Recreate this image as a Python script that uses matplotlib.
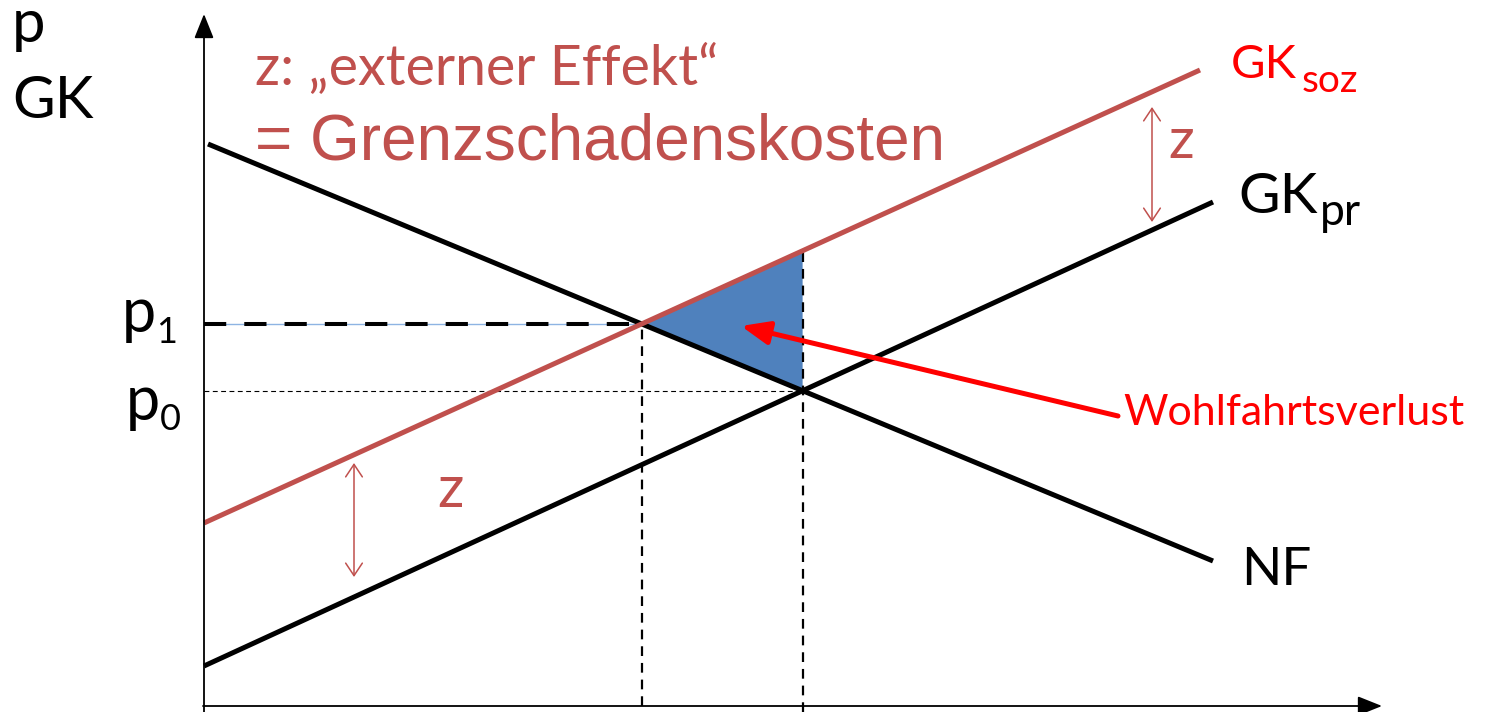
import numpy as np
import matplotlib.pyplot as plt
from matplotlib.patches import Polygon

plt.rcParams['font.family'] = ['Lato', 'DejaVu Sans']
plt.rcParams['lines.scale_dashes'] = False

# curves as end points (quantity, price), diagram units
nf_q = [4, 1009]
nf_p = [562, 145]
gkpr_q = [0, 1009]
gkpr_p = [40, 504]
gksoz_q = [0, 996]
gksoz_p = [183, 636]

# axis lengths
q_max = 1178
p_max = 692

RED_BROWN = '#C0504D'
RED = '#FF0000'
BLUE = '#4F81BD'


def coef(q, p):
    m = (p[1] - p[0]) / (q[1] - q[0])
    return m, p[0] - m * q[0]


def cross(a, b):
    m1, b1 = a
    m2, b2 = b
    x = (b2 - b1) / (m1 - m2)
    return x, m1 * x + b1


nf = coef(nf_q, nf_p)
gkpr = coef(gkpr_q, gkpr_p)
gksoz = coef(gksoz_q, gksoz_p)

q1, p1 = cross(nf, gksoz)   # market outcome with external effect
q0, p0 = cross(nf, gkpr)    # private optimum
soz_at_q0 = gksoz[0] * q0 + gksoz[1]

fig = plt.figure(figsize=(14.9, 7.12), dpi=100)
ax = fig.add_axes([0, 0, 1, 1])
ax.set_xlim(-204, 1286)
ax.set_ylim(-6, 706)
ax.axis('off')

# welfare loss triangle
ax.add_patch(Polygon([(q1, p1), (q0, soz_at_q0), (q0, p0)],
                     closed=True, facecolor=BLUE, edgecolor='none', zorder=1))

# helper lines
ax.plot([0, q1], [p1, p1], color='#8EB4E3', lw=1.0, zorder=2)
ax.plot([0, q1], [p1, p1], color='black', lw=2.9, dashes=(16, 13), zorder=3)
ax.plot([0, q0], [p0, p0], color='black', lw=0.8, dashes=(3.5, 2.5), zorder=2)
ax.plot([q1, q1], [0, p1], color='black', lw=1.6, dashes=(7, 5), zorder=2)
ax.plot([q0, q0], [-6, soz_at_q0], color='black', lw=1.6, dashes=(7, 5), zorder=2)

# curves
ax.plot(nf_q, nf_p, color='black', lw=3.6, solid_capstyle='butt', zorder=4)
ax.plot(gkpr_q, gkpr_p, color='black', lw=3.6, solid_capstyle='butt', zorder=4)
ax.plot(gksoz_q, gksoz_p, color=RED_BROWN, lw=3.6, solid_capstyle='butt', zorder=4)

# axes with arrow heads
axis_arrow = dict(arrowstyle='-|>,head_length=0.75,head_width=0.3', lw=1.3,
                  color='black', shrinkA=0, shrinkB=0, mutation_scale=20)
ax.annotate('', xy=(0, p_max), xytext=(0, -6), arrowprops=axis_arrow, zorder=5)
ax.annotate('', xy=(q_max, 0), xytext=(-1, 0), arrowprops=axis_arrow, zorder=5)

# z distances
z_arrow = dict(arrowstyle='<->,head_length=0.45,head_width=0.3', lw=1.1,
               color=RED_BROWN, shrinkA=0, shrinkB=0, mutation_scale=20)
ax.annotate('', xy=(150, 129), xytext=(150, 243), arrowprops=z_arrow)
ax.annotate('', xy=(948, 484), xytext=(948, 599), arrowprops=z_arrow)

# pointer to welfare loss
ax.annotate('', xy=(537, 380), xytext=(914, 290),
            arrowprops=dict(arrowstyle='-|>,head_length=0.85,head_width=0.35',
                            lw=3.6, color=RED, shrinkA=0, shrinkB=0,
                            mutation_scale=20), zorder=6)

txt = dict(ha='left', va='baseline')
ax.text(-192, 664, 'p', fontsize=43, **txt)
ax.text(-192, 588, 'GK', fontsize=42, **txt)
ax.text(-82, 374, 'p', fontsize=44, **txt)
ax.text(-48, 363, '1', fontsize=26, **txt)
ax.text(-78, 286, 'p', fontsize=44, **txt)
ax.text(-44, 276, '0', fontsize=26, **txt)

ax.text(51, 621, 'z: „externer Effekt“', fontsize=40, color=RED_BROWN, **txt)
ax.text(51, 546, '= Grenzschadenskosten', fontsize=46, color=RED_BROWN,
        family='Liberation Sans', **txt)

ax.text(1027, 628, 'GK', fontsize=34, color=RED, **txt)
ax.text(1098, 614, 'soz', fontsize=28, color=RED, **txt)
ax.text(1034, 493, 'GK', fontsize=41, **txt)
ax.text(1116, 481, 'pr', fontsize=32, **txt)
ax.text(1037, 121, 'NF', fontsize=38, **txt)
ax.text(919, 281, 'Wohlfahrtsverlust', fontsize=31, color=RED, **txt)

ax.text(964, 548, 'z', fontsize=41, color=RED_BROWN, **txt)
ax.text(233, 199, 'z', fontsize=42, color=RED_BROWN, **txt)

fig.savefig('out.png', dpi=100)
